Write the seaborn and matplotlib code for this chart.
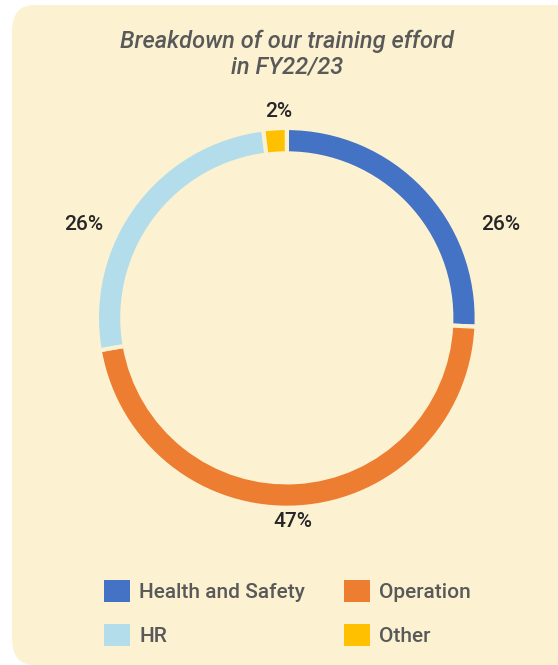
import matplotlib
matplotlib.use("Agg")
import matplotlib.pyplot as plt
from matplotlib.patches import FancyBboxPatch, Patch
import seaborn as sns

# data
categories = ["Health and Safety", "Operation", "HR", "Other"]
shares = [26, 47, 26, 2]
pct_labels = ["26%", "47%", "26%", "2%"]
colors = ["#4472C4", "#ED7D31", "#B3DDEA", "#FFC000"]

bg = "#FCF2D2"
text_dark = "#262626"
text_grey = "#595959"

sns.set_theme(style="white")
plt.rcParams["font.family"] = ["Roboto", "DejaVu Sans"]

fig = plt.figure(figsize=(5.58, 6.65), dpi=100)
fig.patch.set_facecolor("white")

# rounded cream panel
panel = FancyBboxPatch((12 / 558, 0.0), 1.2, 1 - 5 / 665,
                       boxstyle="round,pad=0,rounding_size=0.04",
                       transform=fig.transFigure, facecolor=bg,
                       edgecolor="none", zorder=-5)
fig.patches.append(panel)

ax = fig.add_axes([0.076, 0.1545, 0.876, 0.735])
ax.set_zorder(2)
ax.set_facecolor("none")
wedges, _ = ax.pie(shares, colors=colors, startangle=90, counterclock=False,
                   radius=1.01, wedgeprops=dict(width=0.135, edgecolor=bg, linewidth=3))
ax.set_xlim(-1.3, 1.3)
ax.set_ylim(-1.3, 1.3)
ax.set_aspect("equal")
ax.axis("off")

# percentage labels, placed like the original
label_pos = [(1.14, 0.495), (0.032, -1.085), (-1.08, 0.495), (-0.043, 1.096)]
for (x, y), lab in zip(label_pos, pct_labels):
    ax.text(x, y, lab, ha="center", va="center", fontsize=15,
            fontweight="medium", color=text_dark)

fig.text(287 / 558, 1 - 54 / 665, "Breakdown of our training efford\nin FY22/23",
         ha="center", va="center", fontsize=17, style="italic",
         fontweight="medium", color=text_grey, linespacing=1.1)

handles = [Patch(facecolor=c, edgecolor="none") for c in colors]
# order so columns read: HS / HR, Operation / Other
order = [0, 2, 1, 3]
leg = fig.legend([handles[i] for i in order], [categories[i] for i in order],
                 ncol=2, loc="center", bbox_to_anchor=(0.515, 1 - 613 / 665),
                 frameon=False, fontsize=15, labelcolor=text_grey,
                 handlelength=1.25, handleheight=1.25, handletextpad=0.45,
                 columnspacing=1.85, labelspacing=1.1)
for t in leg.get_texts():
    t.set_fontweight("medium")

fig.savefig("out.png", dpi=100, facecolor="white")
